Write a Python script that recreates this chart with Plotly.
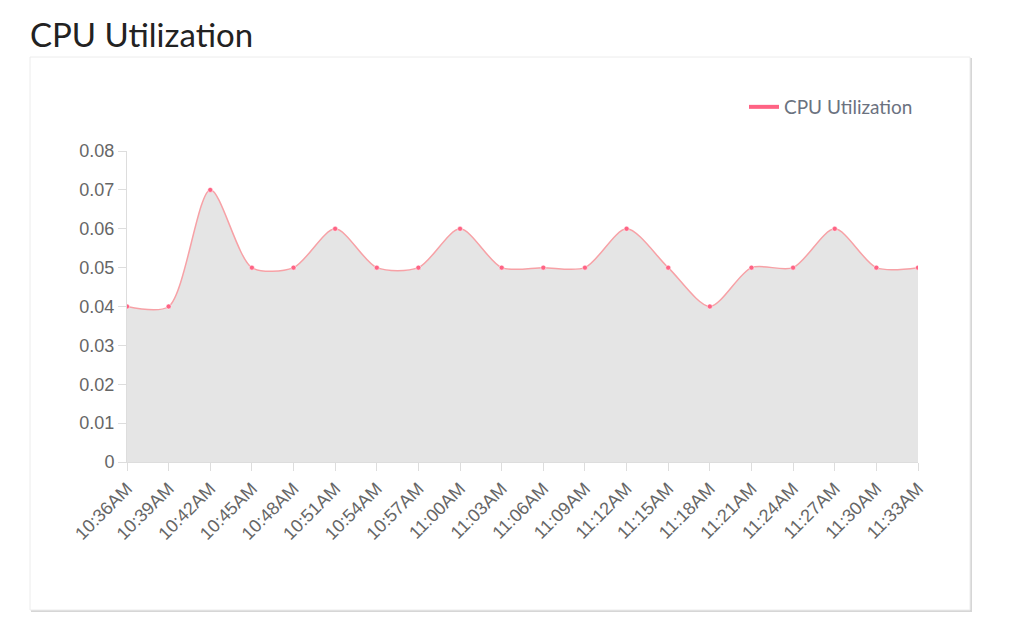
import plotly.graph_objects as go

times = ["10:36AM", "10:39AM", "10:42AM", "10:45AM", "10:48AM", "10:51AM", "10:54AM",
         "10:57AM", "11:00AM", "11:03AM", "11:06AM", "11:09AM", "11:12AM", "11:15AM",
         "11:18AM", "11:21AM", "11:24AM", "11:27AM", "11:30AM", "11:33AM"]
cpu = [0.04, 0.04, 0.07, 0.05, 0.05, 0.06, 0.05, 0.05, 0.06, 0.05,
       0.05, 0.05, 0.06, 0.05, 0.04, 0.05, 0.05, 0.06, 0.05, 0.05]

# page has an 8px body margin, so work in shifted pixel coordinates
OFF = 8
W, H = 1000, 626
L, R, T, B = 127 - OFF, 918 - OFF, 151 - OFF, 462 - OFF


def px_x(p):
    return (p - OFF - L) / (R - L)


def px_y(p):
    return (B - (p - OFF)) / (B - T)


fig = go.Figure()
fig.add_scatter(
    x=times, y=cpu, name="CPU Utilization", mode="lines+markers", showlegend=False,
    line=dict(color="#f7a1a6", width=1.5, shape="spline", smoothing=0.8),
    marker=dict(color="#ff6384", size=5, line=dict(color="white", width=0.5)),
    fill="tozeroy", fillcolor="#e5e5e5",
)
# legend entry: plain thick pink line
fig.add_scatter(x=[None], y=[None], name="CPU Utilization", mode="lines",
                line=dict(color="#ff6384", width=4))

# card background with soft shadow
fig.add_shape(type="rect", xref="paper", yref="paper", layer="below",
              x0=px_x(31), x1=px_x(972), y0=px_y(612), y1=px_y(58),
              fillcolor="#d6d6d6", line_width=0)
fig.add_shape(type="rect", xref="paper", yref="paper", layer="below",
              x0=px_x(30), x1=px_x(970), y0=px_y(610), y1=px_y(57),
              fillcolor="white", line=dict(color="#ececec", width=1))

fig.update_layout(
    width=W, height=H,
    margin=dict(l=L, r=W - R, t=T, b=H - B),
    paper_bgcolor="white", plot_bgcolor="white",
    title=dict(text="CPU Utilization", x=(30 - OFF) / W, xanchor="left",
               y=1 - (35 - OFF) / H, yanchor="middle",
               font=dict(family="Lato", size=33, color="#222")),
    showlegend=True,
    legend=dict(x=px_x(918), xanchor="right", y=px_y(107), yanchor="middle",
                font=dict(family="Lato", size=19, color="#6b7280"), bgcolor="rgba(0,0,0,0)"),
    font=dict(family="Liberation Sans", size=18, color="#666"),
)
fig.update_xaxes(showgrid=False, tickangle=-45, ticks="outside", ticklen=8, tickcolor="#ddd",
                 showline=True, linecolor="#ddd", range=[0, len(times) - 1], zeroline=False)
fig.update_yaxes(showgrid=False, range=[0, 0.08], dtick=0.01, tickformat="~g", ticks="outside",
                 ticklen=8, tickcolor="#ddd", showline=True, linecolor="#ddd", zeroline=False)

fig.write_html("out.html")
